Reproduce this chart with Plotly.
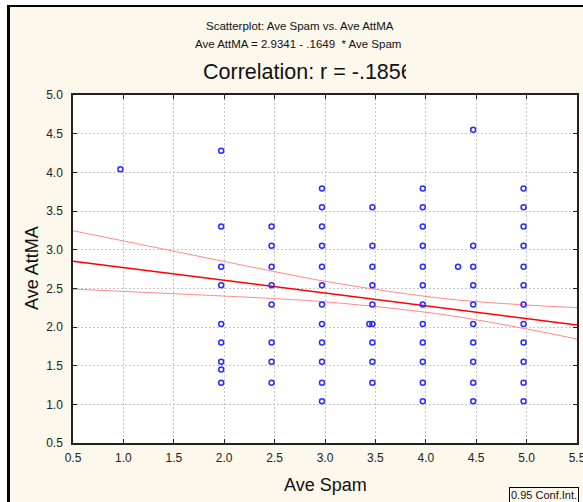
import plotly.graph_objects as go

# ---------------- data ----------------
ave_spam = (
    [0.97]
    + [1.97] * 9
    + [2.47] * 8
    + [2.97] * 12
    + [3.47] * 9 + [3.44]
    + [3.97] * 12
    + [4.32]
    + [4.47] * 10
    + [4.97] * 12
)
ave_attma = (
    [4.04]
    + [4.28, 3.30, 2.78, 2.54, 2.04, 1.80, 1.55, 1.45, 1.28]
    + [3.30, 3.05, 2.78, 2.54, 2.29, 1.80, 1.55, 1.28]
    + [3.79, 3.55, 3.30, 3.05, 2.78, 2.54, 2.29, 2.04, 1.80, 1.55, 1.28, 1.04]
    + [3.55, 3.05, 2.78, 2.54, 2.29, 2.04, 1.80, 1.55, 1.28] + [2.04]
    + [3.79, 3.55, 3.30, 3.05, 2.78, 2.54, 2.29, 2.04, 1.80, 1.55, 1.28, 1.04]
    + [2.78]
    + [4.55, 3.05, 2.78, 2.54, 2.29, 2.04, 1.80, 1.55, 1.28, 1.04]
    + [3.79, 3.55, 3.30, 3.05, 2.78, 2.54, 2.29, 2.04, 1.80, 1.55, 1.28, 1.04]
)

intercept = 2.9341
slope = -0.1649
fit_x = [0.5, 5.5]

band_x = [0.5, 1.77, 2.5, 3.06, 4.25, 5.5]
band_upper = [3.245, 2.909, 2.716, 2.578, 2.358, 2.25]
band_lower = [2.49, 2.414, 2.367, 2.319, 2.146, 1.845]

tick_vals_x = [0.5, 1.0, 1.5, 2.0, 2.5, 3.0, 3.5, 4.0, 4.5, 5.0, 5.5]
tick_vals_y = [0.5, 1.0, 1.5, 2.0, 2.5, 3.0, 3.5, 4.0, 4.5, 5.0]

title1 = "Scatterplot: Ave Spam vs. Ave AttMA"
title2 = "Ave AttMA = 2.9341 - .1649  * Ave Spam"
title3 = "Correlation: r = -.1856"
x_title = "Ave Spam"
y_title = "Ave AttMA"
conf_label = "0.95 Conf.Int."

# ---------------- layout geometry ----------------
W, H = 583, 502
L, R, T, B = 73, 6, 95, 59
PW, PH = W - L - R, H - T - B
CREAM = "#fdf8ec"
FONT = "Liberation Sans, Arial, sans-serif"


def px(x):
    return (x - L) / PW


def py(y):
    return (H - B - y) / PH


fig = go.Figure()

fig.add_trace(go.Scatter(
    x=band_x, y=band_upper, mode="lines",
    line=dict(color="#ff8a8a", width=1, shape="spline"),
    hoverinfo="skip", showlegend=False))
fig.add_trace(go.Scatter(
    x=band_x, y=band_lower, mode="lines",
    line=dict(color="#ff8a8a", width=1, shape="spline"),
    hoverinfo="skip", showlegend=False))
fig.add_trace(go.Scatter(
    x=fit_x, y=[intercept + slope * v for v in fit_x], mode="lines",
    line=dict(color="#ff0000", width=1.5),
    hoverinfo="skip", showlegend=False))
fig.add_trace(go.Scatter(
    x=ave_spam, y=ave_attma, mode="markers",
    marker=dict(symbol="circle-open", size=5, color="#2b2bff",
                line=dict(width=1.5, color="#2b2bff")),
    showlegend=False))

axis_common = dict(
    showgrid=True, gridcolor="#c4c4c4", griddash="2px,2px", gridwidth=1,
    zeroline=False, showline=True, linecolor="#222222", linewidth=1.5,
    mirror="ticks", ticks="inside", ticklen=4, tickcolor="#222222",
    tickformat=".1f", ticklabeloverflow="allow", automargin=False,
    tickfont=dict(family=FONT, size=12, color="#222222"),
)

fig.update_xaxes(range=[0.5, 5.5], tickvals=tick_vals_x, ticklabelstandoff=3,
                 **axis_common)
fig.update_yaxes(range=[0.5, 5.0], tickvals=tick_vals_y, ticklabelstandoff=6,
                 **axis_common)

shapes = [
    # white strips outside the frame
    dict(type="rect", xref="paper", yref="paper", x0=px(0), x1=px(W),
         y0=py(0), y1=py(5), fillcolor="white", line=dict(width=0)),
    dict(type="rect", xref="paper", yref="paper", x0=px(0), x1=px(7),
         y0=py(0), y1=py(H), fillcolor="white", line=dict(width=0)),
    # black frame lines
    dict(type="line", xref="paper", yref="paper", x0=px(7), x1=px(W),
         y0=py(6), y1=py(6), line=dict(color="black", width=2)),
    dict(type="line", xref="paper", yref="paper", x0=px(8.5), x1=px(8.5),
         y0=py(5), y1=py(H), line=dict(color="black", width=3)),
]

annotations = [
    dict(text=title1, x=px(300), y=py(26), xref="paper", yref="paper",
         xanchor="center", yanchor="middle", showarrow=False,
         font=dict(family=FONT, size=11.5, color="#111111")),
    dict(text=title2, x=px(298), y=py(44), xref="paper", yref="paper",
         xanchor="center", yanchor="middle", showarrow=False,
         font=dict(family=FONT, size=11.5, color="#111111")),
    dict(text=title3, x=px(201), y=py(72), xref="paper", yref="paper",
         xanchor="left", yanchor="middle", showarrow=False, align="left",
         width=203,
         font=dict(family=FONT, size=21.5, color="#111111")),
    dict(text=x_title, x=px(325), y=py(485), xref="paper", yref="paper",
         xanchor="center", yanchor="middle", showarrow=False,
         font=dict(family=FONT, size=18, color="#111111")),
    dict(text=y_title, x=px(32), y=py(268), xref="paper", yref="paper",
         xanchor="center", yanchor="middle", showarrow=False, textangle=-90,
         font=dict(family=FONT, size=18, color="#111111")),
    dict(text=conf_label, x=px(509), y=py(487), xref="paper", yref="paper",
         xanchor="left", yanchor="top", showarrow=False,
         bordercolor="black", borderwidth=1, borderpad=1, bgcolor=CREAM,
         font=dict(family=FONT, size=11, color="#111111")),
]

fig.update_layout(
    width=W, height=H,
    margin=dict(l=L, r=R, t=T, b=B, pad=0, autoexpand=False),
    paper_bgcolor=CREAM, plot_bgcolor="white",
    shapes=shapes, annotations=annotations,
    showlegend=False,
)

fig.write_html("out.html")
